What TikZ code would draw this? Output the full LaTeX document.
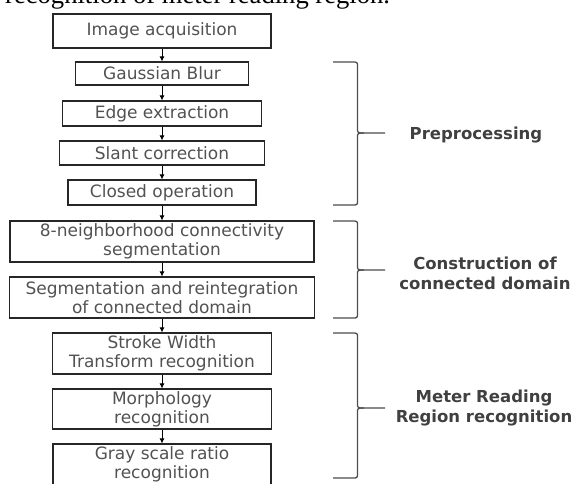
\documentclass[tikz,border=0pt]{standalone}
\usepackage{fontspec}
\setmainfont{DejaVu Sans}
\newfontfamily\capfont{Liberation Serif}
\usetikzlibrary{arrows.meta}
\newcommand\drawmybrace[3]{%
  \draw[brc] (333,#1) -- (352,#1) .. controls (357.5,#1) .. (357.5,#1+5) -- (357.5,#2-5) .. controls (357.5,#2) .. (364,#2) -- (385,#2);
  \draw[brc] (364,#2) .. controls (357.5,#2) .. (357.5,#2+5) -- (357.5,#3-5) .. controls (357.5,#3) .. (352,#3) -- (333,#3);}
\begin{document}
\begin{tikzpicture}[x=1pt,y=-1pt,
  box/.style={draw=black!85, line width=1.1pt, inner sep=0pt, align=center, text=black!68, font=\fontsize{17}{19}\selectfont},
  arr/.style={draw=black, line width=0.9pt, -{Latex[length=5pt,width=5pt]}},
  brc/.style={draw=black!70, line width=1.3pt},
  lbl/.style={align=center, text=black!75, font=\bfseries\fontsize{16.5}{20}\selectfont, inner sep=0pt}]
\clip (0,0) rectangle (575,483);
\node[anchor=base west, inner sep=0pt, font=\capfont\fontsize{26.6}{30}\selectfont] (cap) at (5,3) {recognition of meter reading region.};
\node[box, minimum width=218pt, minimum height=34pt] (acq) at (162,31) {Image acquisition};
\node[box, minimum width=173pt, minimum height=23pt] (gauss) at (162,73.5) {Gaussian Blur};
\node[box, minimum width=199pt, minimum height=25pt] (edge) at (162,113.5) {Edge extraction};
\node[box, minimum width=205pt, minimum height=24pt] (slant) at (162,153) {Slant correction};
\node[box, minimum width=188pt, minimum height=25pt] (closed) at (162,192.5) {Closed operation};
\node[box, minimum width=304pt, minimum height=41pt] (neigh) at (162,241.5) {8-neighborhood connectivity\\segmentation};
\node[box, minimum width=305pt, minimum height=41pt] (seg) at (162,297.5) {Segmentation and reintegration\\of connected domain};
\node[box, minimum width=219pt, minimum height=41pt] (swt) at (162,353.5) {Stroke Width\\Transform recognition};
\node[box, minimum width=219pt, minimum height=40pt] (morph) at (162,409) {Morphology\\recognition};
\node[box, minimum width=218pt, minimum height=41pt] (gray) at (162,464.5) {Gray scale ratio\\recognition};
\draw[arr] (acq) -- (gauss);
\draw[arr] (gauss) -- (edge);
\draw[arr] (edge) -- (slant);
\draw[arr] (slant) -- (closed);
\draw[arr] (closed) -- (neigh);
\draw[arr] (neigh) -- (seg);
\draw[arr] (seg) -- (swt);
\draw[arr] (swt) -- (morph);
\draw[arr] (morph) -- (gray);
\drawmybrace{62}{133}{205}
\drawmybrace{221}{270}{318}
\drawmybrace{333}{408}{478}
\node[lbl] (pre) at (476,135) {Preprocessing};
\node[lbl] (con) at (485,273) {Construction of\\connected domain};
\node[lbl] (met) at (484,408) {Meter Reading\\Region recognition};
\end{tikzpicture}
\end{document}
